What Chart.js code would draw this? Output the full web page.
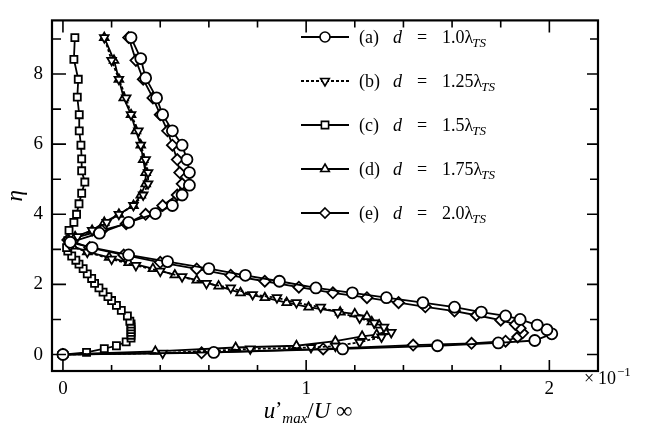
<!DOCTYPE html>
<html>
<head>
<meta charset="utf-8">
<script src="https://cdn.jsdelivr.net/npm/chart.js@4.4.0/dist/chart.umd.min.js"></script>
<style>
  html, body { margin: 0; padding: 0; background: #fff; }
</style>
</head>
<body>
<canvas id="chart" width="645" height="430"></canvas>
<script>
// tick labels
const xTicks = [0, 1, 2];
const yTicks = [0, 2, 4, 6, 8];

// legend texts
const legendTags = ['(a)', '(b)', '(c)', '(d)', '(e)'];
const dValues = ['1.0', '1.25', '1.5', '1.75', '2.0'];

// (a) d = 1.0 lambda_TS  (circles)
const aU = [0, 0.62, 1.15, 1.54, 1.79, 1.94, 2.01, 1.99, 1.95, 1.88, 1.82, 1.72, 1.61, 1.48, 1.33, 1.19, 1.04, 0.89, 0.75, 0.60,
  0.43, 0.27, 0.12, 0.03, 0.15, 0.27, 0.38, 0.45, 0.49, 0.52, 0.52, 0.51, 0.49, 0.45, 0.41, 0.385, 0.34, 0.32, 0.28];
const aEta = [0, 0.06, 0.16, 0.25, 0.33, 0.40, 0.59, 0.71, 0.84, 1.00, 1.10, 1.21, 1.35, 1.48, 1.62, 1.76, 1.90, 2.09, 2.26, 2.45,
  2.65, 2.84, 3.05, 3.20, 3.46, 3.77, 4.02, 4.25, 4.55, 4.83, 5.19, 5.56, 5.97, 6.38, 6.84, 7.32, 7.89, 8.44, 9.04];

// (b) d = 1.25 lambda_TS  (down triangles, dashed)
const bU = [0, 0.41, 0.77, 1.02, 1.12, 1.22, 1.31, 1.35, 1.32, 1.28, 1.22, 1.13, 1.06, 0.96, 0.88, 0.78, 0.69, 0.59, 0.49, 0.40,
  0.30, 0.20, 0.10, 0.03, 0.06, 0.12, 0.18, 0.23, 0.29, 0.33, 0.35, 0.35, 0.34, 0.32, 0.31, 0.28, 0.26, 0.23, 0.20, 0.17];
const bEta = [0, 0.04, 0.16, 0.20, 0.24, 0.35, 0.50, 0.63, 0.78, 0.90, 1.04, 1.20, 1.35, 1.48, 1.62, 1.71, 1.90, 2.03, 2.22, 2.38,
  2.54, 2.72, 2.92, 3.10, 3.36, 3.54, 3.77, 4.00, 4.25, 4.55, 4.87, 5.19, 5.56, 5.97, 6.38, 6.84, 7.32, 7.85, 8.39, 9.04];

// (c) d = 1.5 lambda_TS  (squares)
const cU = [0, 0.097, 0.17, 0.22, 0.26, 0.28, 0.28, 0.28, 0.28, 0.28, 0.28, 0.275, 0.265, 0.24, 0.22, 0.20, 0.185, 0.165, 0.148, 0.13,
  0.118, 0.10, 0.083, 0.066, 0.053, 0.036, 0.02, 0.015, 0.02, 0.025, 0.045, 0.056, 0.066, 0.077, 0.09, 0.077, 0.077, 0.074, 0.067, 0.067,
  0.059, 0.063, 0.045, 0.049];
const cEta = [0, 0.06, 0.17, 0.25, 0.36, 0.47, 0.55, 0.63, 0.71, 0.79, 0.87, 0.95, 1.10, 1.26, 1.40, 1.54, 1.65, 1.78, 1.90, 2.03,
  2.17, 2.30, 2.45, 2.58, 2.69, 2.81, 2.95, 3.05, 3.25, 3.54, 3.77, 4.00, 4.30, 4.60, 4.92, 5.24, 5.58, 5.97, 6.38, 6.84,
  7.34, 7.85, 8.42, 9.04];

// (d) d = 1.75 lambda_TS  (triangles)
const dU = [0, 0.38, 0.71, 0.96, 1.12, 1.23, 1.29, 1.33, 1.30, 1.27, 1.25, 1.20, 1.14, 1.01, 0.92, 0.83, 0.73, 0.64, 0.55, 0.46,
  0.37, 0.27, 0.19, 0.10, 0.04, 0.05, 0.12, 0.17, 0.23, 0.29, 0.32, 0.34, 0.34, 0.33, 0.32, 0.30, 0.28, 0.25, 0.23, 0.21, 0.17];
const dEta = [0, 0.09, 0.20, 0.25, 0.38, 0.52, 0.57, 0.66, 0.84, 0.93, 1.08, 1.16, 1.21, 1.35, 1.48, 1.62, 1.76, 1.95, 2.12, 2.27,
  2.45, 2.62, 2.77, 2.93, 3.09, 3.36, 3.54, 3.77, 4.00, 4.25, 4.55, 4.87, 5.19, 5.56, 5.97, 6.38, 6.84, 7.32, 7.85, 8.39, 9.04];

// (e) d = 2.0 lambda_TS  (diamonds)
const eU = [0, 0.57, 1.07, 1.44, 1.68, 1.82, 1.87, 1.89, 1.88, 1.86, 1.80, 1.70, 1.61, 1.49, 1.38, 1.25, 1.11, 0.97, 0.83, 0.69,
  0.55, 0.40, 0.25, 0.11, 0.02, 0.16, 0.26, 0.34, 0.41, 0.47, 0.49, 0.48, 0.47, 0.45, 0.43, 0.40, 0.37, 0.33, 0.30, 0.27];
const eEta = [0, 0.05, 0.16, 0.27, 0.32, 0.38, 0.50, 0.62, 0.75, 0.86, 0.98, 1.12, 1.24, 1.36, 1.48, 1.62, 1.76, 1.92, 2.09, 2.26,
  2.44, 2.63, 2.84, 3.05, 3.27, 3.54, 3.73, 4.00, 4.25, 4.55, 4.87, 5.19, 5.56, 5.97, 6.38, 6.84, 7.32, 7.85, 8.39, 9.04];

const serif = '"Liberation Serif", "DejaVu Serif", serif';

const toPoints = (us, etas) => us.map((u, i) => ({ x: u, y: etas[i] }));

const makeSet = (us, etas, style, rotation, radius, dash) => ({
  data: toPoints(us, etas),
  showLine: true,
  borderColor: '#000',
  borderWidth: 1.8,
  borderDash: dash,
  pointStyle: style,
  pointRotation: rotation,
  pointRadius: radius,
  pointBorderWidth: 1.8,
  pointBorderColor: '#000',
  pointBackgroundColor: '#fff'
});

const datasets = [
  makeSet(aU, aEta, 'circle', 0, 5.5, []),
  makeSet(bU, bEta, 'triangle', 180, 5, [3, 2]),
  makeSet(cU, cEta, 'rect', 0, 5, []),
  makeSet(dU, dEta, 'triangle', 0, 5, []),
  makeSet(eU, eEta, 'rectRot', 0, 5.5, [])
];

function marker(ctx, style, rot, r, x, y) {
  ctx.save();
  ctx.translate(x, y);
  ctx.rotate(rot * Math.PI / 180);
  ctx.beginPath();
  if (style === 'circle') ctx.arc(0, 0, r, 0, Math.PI * 2);
  else if (style === 'rect') ctx.rect(-r * 0.72, -r * 0.72, r * 1.44, r * 1.44);
  else if (style === 'rectRot') { ctx.moveTo(0, -r); ctx.lineTo(r, 0); ctx.lineTo(0, r); ctx.lineTo(-r, 0); ctx.closePath(); }
  else { for (let k = 0; k < 3; k++) { const a = k * 2 * Math.PI / 3; ctx[k ? 'lineTo' : 'moveTo'](Math.sin(a) * r, -Math.cos(a) * r); } ctx.closePath(); }
  ctx.fillStyle = '#fff';
  ctx.fill();
  ctx.lineWidth = 1.6;
  ctx.strokeStyle = '#000';
  ctx.stroke();
  ctx.restore();
}

const framePlugin = {
  id: 'frame',
  afterDraw(chart) {
    const { ctx, chartArea: a, scales: { x, y } } = chart;
    ctx.save();
    ctx.strokeStyle = '#000';
    ctx.fillStyle = '#000';
    ctx.lineWidth = 2.2;
    ctx.strokeRect(a.left, a.top, a.right - a.left, a.bottom - a.top);

    // inward ticks
    ctx.lineWidth = 1.6;
    ctx.beginPath();
    for (let i = 0; i <= 10; i++) {
      const px = x.getPixelForValue(i * 0.2);
      const major = i % 5 === 0;
      ctx.moveTo(px, a.bottom); ctx.lineTo(px, a.bottom - (major ? 11 : 6));
      ctx.moveTo(px, a.top); ctx.lineTo(px, a.top + (major ? 12 : 7));
    }
    for (let i = 0; i <= 9; i++) {
      const py = y.getPixelForValue(i);
      const major = i % 2 === 0;
      ctx.moveTo(a.left, py); ctx.lineTo(a.left + (major ? 14 : 9), py);
      ctx.moveTo(a.right, py); ctx.lineTo(a.right - (major ? 11 : 8), py);
    }
    ctx.stroke();

    // legend
    chart.data.datasets.forEach((ds, i) => {
      const ly = 37 + i * 44;
      ctx.lineWidth = 1.8;
      ctx.setLineDash(ds.borderDash || []);
      ctx.beginPath();
      ctx.moveTo(301, ly); ctx.lineTo(349, ly);
      ctx.stroke();
      ctx.setLineDash([]);
      marker(ctx, ds.pointStyle, ds.pointRotation, 5, 325, ly);

      const base = ly + 6;
      ctx.fillStyle = '#000';
      ctx.textBaseline = 'alphabetic';
      ctx.textAlign = 'left';
      ctx.font = '18px ' + serif;
      ctx.fillText(legendTags[i], 359, base);
      ctx.font = 'italic 18px ' + serif;
      ctx.fillText('d', 393, base);
      ctx.font = '18px ' + serif;
      ctx.fillText('=', 417, base);
      const v = dValues[i] + 'λ';
      ctx.fillText(v, 442, base);
      const w = ctx.measureText(v).width;
      ctx.font = 'italic 13px ' + serif;
      ctx.fillText('TS', 442 + w - 1, base + 4);
    });

    // x axis title  u'max/U∞
    const parts = [
      ['u', 'italic 23px ', 0],
      ['\u2019', '21px ', -2],
      ['max', 'italic 15px ', 5],
      ['/', '23px ', 0],
      ['U', 'italic 23px ', 0],
      [' \u221E', '23px ', 0]
    ];
    let total = 0;
    parts.forEach(p => { ctx.font = p[1] + serif; total += ctx.measureText(p[0]).width; });
    let tx = (x.getPixelForValue(1) + 2) - total / 2;
    const tb = 418;
    parts.forEach(p => {
      ctx.font = p[1] + serif;
      ctx.fillText(p[0], tx, tb + p[2]);
      tx += ctx.measureText(p[0]).width;
    });

    // multiplier  ×10^-1 (superscript runs off the right edge as in the original)
    ctx.font = '18px ' + serif;
    ctx.fillText('\u00D7', 584, 384);
    ctx.fillText('10', 598, 384);
    ctx.font = '13px ' + serif;
    ctx.fillText('\u22121', 617, 376);
    ctx.restore();
  }
};

new Chart(document.getElementById('chart'), {
  type: 'scatter',
  data: { datasets: datasets },
  options: {
    responsive: false,
    animation: false,
    devicePixelRatio: 1,
    layout: { padding: { top: 6, right: 47, left: 0, bottom: 0 } },
    plugins: { legend: { display: false }, tooltip: { enabled: false } },
    scales: {
      x: {
        type: 'linear',
        min: -0.045,
        max: 2.2,
        grid: { display: false, drawTicks: false },
        border: { display: false },
        afterBuildTicks: s => { s.ticks = xTicks.map(v => ({ value: v })); },
        afterFit: s => { s.height = 59; },
        ticks: { color: '#000', padding: 7, font: { family: serif, size: 19 } }
      },
      y: {
        type: 'linear',
        min: -0.47,
        max: 9.53,
        grid: { display: false, drawTicks: false },
        border: { display: false },
        afterBuildTicks: s => { s.ticks = yTicks.map(v => ({ value: v })); },
        afterFit: s => { s.width = 52; },
        ticks: { color: '#000', padding: 9, font: { family: serif, size: 19 } },
        title: { display: true, text: 'η', color: '#000', padding: { top: 2, bottom: 0 }, font: { family: serif, size: 23, style: 'italic' } }
      }
    }
  },
  plugins: [framePlugin]
});
</script>
</body>
</html>
